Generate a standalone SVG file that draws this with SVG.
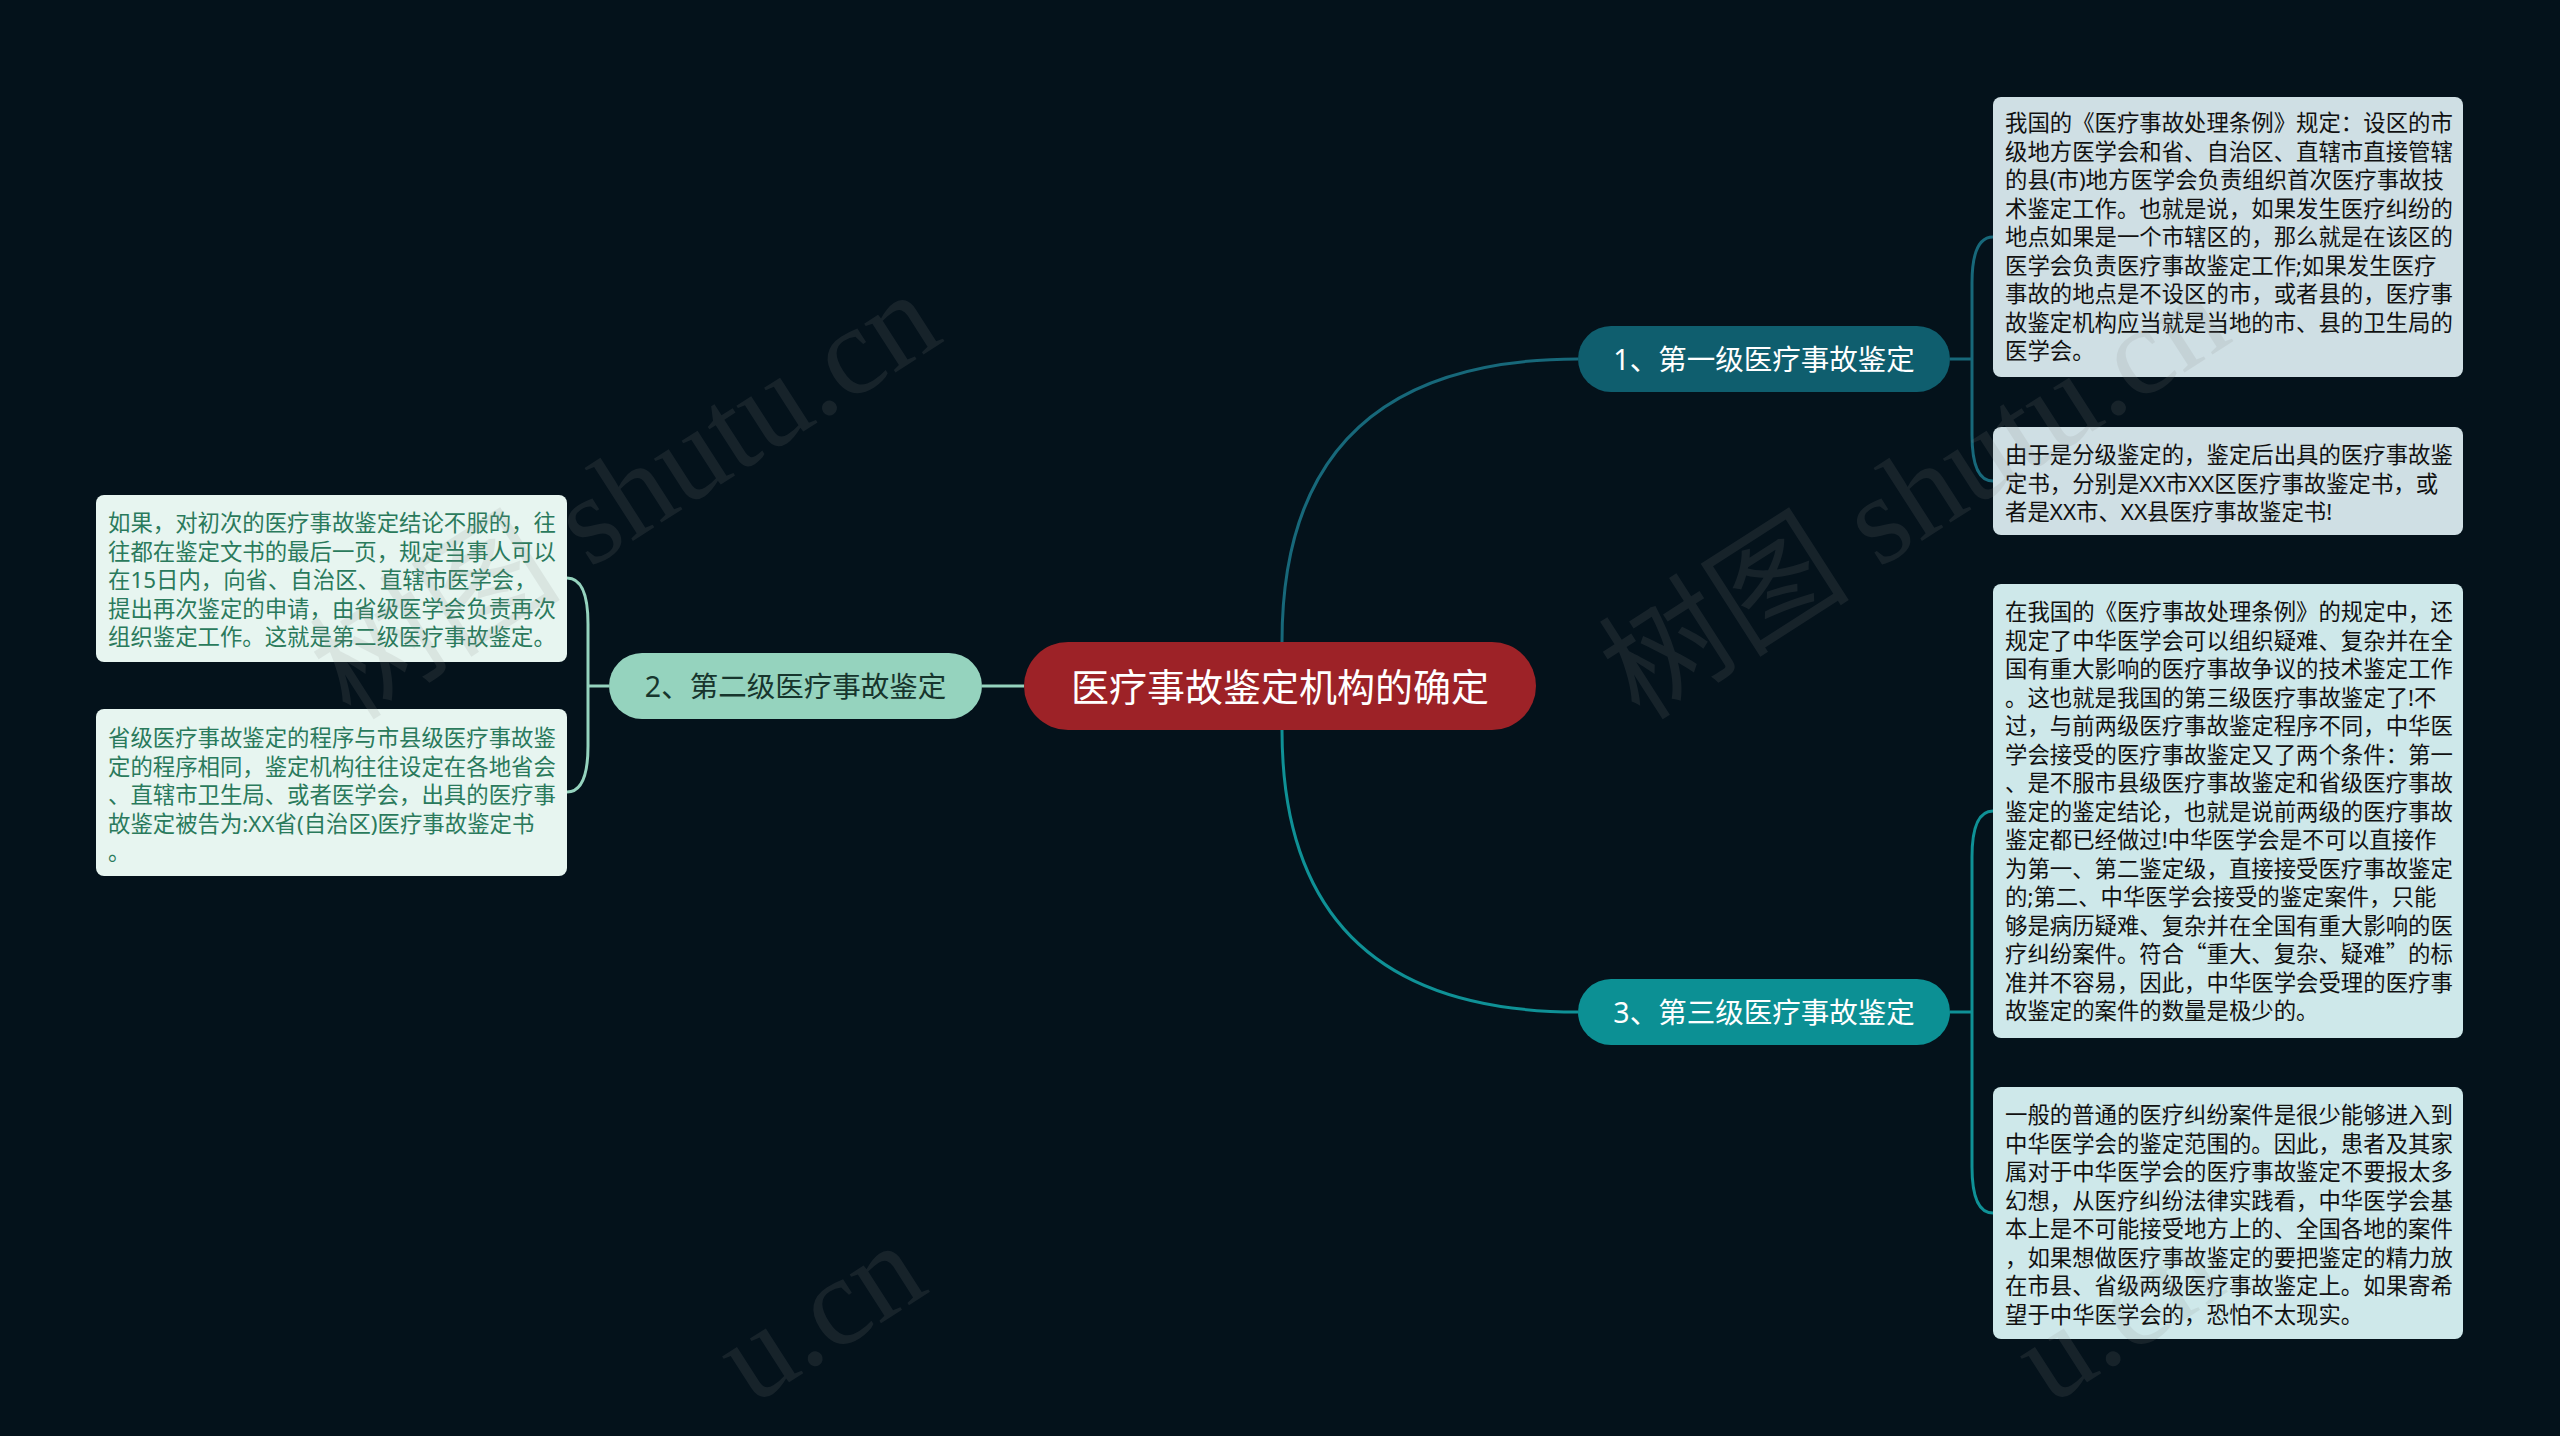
<svg xmlns="http://www.w3.org/2000/svg" width="2560" height="1436" viewBox="0 0 2560 1436">
<style>
.bg{fill:#04121b}
.node-t{font-family:"Noto Sans","Noto Sans CJK SC",sans-serif;text-anchor:middle;dominant-baseline:central}
.box-t{font-family:"Noto Sans","Noto Sans CJK SC",sans-serif;font-size:22.4px}
.q{font-family:"Noto Sans CJK SC","Noto Sans",sans-serif}
.rbox1{fill:#cfdfe4}
.rbox3{fill:#cee8ea}
.lbox{fill:#e7f5f0}
.rt{fill:#111111}
.lt{fill:#2a7a5c}
.c1{fill:none;stroke:#17687a;stroke-width:3}
.c2{fill:none;stroke:#95d3be;stroke-width:3}
.c3{fill:none;stroke:#0f9196;stroke-width:3}
.wm{font-family:"Liberation Serif","Noto Sans CJK SC",serif;font-size:126px;fill:#888888;opacity:0.14}
</style>
<rect class="bg" x="0" y="0" width="2560" height="1436"/>

<g id="connectors">
<path class="c1" d="M1282,642 Q1282,359 1578,359"/>
<path class="c3" d="M1282,730 Q1282,1012 1578,1012"/>
<path class="c2" d="M982,686 L1024,686"/>
<path class="c1" d="M1950,359 H1972"/>
<path class="c1" d="M1993,237 C1978,237 1972,255 1972,283 L1972,435 C1972,463 1978,481 1993,481"/>
<path class="c3" d="M1950,1012 H1972"/>
<path class="c3" d="M1993,811 C1978,811 1972,829 1972,857 L1972,1167 C1972,1195 1978,1213 1993,1213"/>
<path class="c2" d="M609,686 H588"/>
<path class="c2" d="M567,578 C582,578 588,596 588,624 L588,746 C588,774 582,792 567,792"/>
</g>

<g id="root">
<rect x="1024" y="642" width="512" height="88" rx="44" fill="#9d2227"/>
<text class="node-t" x="1280" y="686" font-size="38" fill="#ffffff">医疗事故鉴定机构的确定</text>
</g>

<g id="n1">
<rect x="1578" y="326" width="372" height="66" rx="33" fill="#0f5e6e"/>
<text class="node-t" x="1764" y="359" font-size="28.5" fill="#ffffff">1、第一级医疗事故鉴定</text>
</g>

<g id="n2">
<rect x="609" y="653" width="373" height="66" rx="33" fill="#95d3be"/>
<text class="node-t" x="795.5" y="686" font-size="28.5" fill="#17352d">2、第二级医疗事故鉴定</text>
</g>

<g id="n3">
<rect x="1578" y="979" width="372" height="66" rx="33" fill="#0c9094"/>
<text class="node-t" x="1764" y="1012" font-size="28.5" fill="#ffffff">3、第三级医疗事故鉴定</text>
</g>

<g id="n1a">
<rect class="rbox1" x="1993" y="97" width="470" height="280" rx="8"/>
<text class="box-t rt" x="2005" y="131">
<tspan x="2005">我国的《医疗事故处理条例》规定：设区的市</tspan>
<tspan x="2005" dy="28.5">级地方医学会和省、自治区、直辖市直接管辖</tspan>
<tspan x="2005" dy="28.5">的县(市)地方医学会负责组织首次医疗事故技</tspan>
<tspan x="2005" dy="28.5">术鉴定工作。也就是说，如果发生医疗纠纷的</tspan>
<tspan x="2005" dy="28.5">地点如果是一个市辖区的，那么就是在该区的</tspan>
<tspan x="2005" dy="28.5">医学会负责医疗事故鉴定工作;如果发生医疗</tspan>
<tspan x="2005" dy="28.5">事故的地点是不设区的市，或者县的，医疗事</tspan>
<tspan x="2005" dy="28.5">故鉴定机构应当就是当地的市、县的卫生局的</tspan>
<tspan x="2005" dy="28.5">医学会。</tspan>
</text>
</g>

<g id="n1b">
<rect class="rbox1" x="1993" y="427" width="470" height="108" rx="8"/>
<text class="box-t rt" x="2005" y="463">
<tspan x="2005">由于是分级鉴定的，鉴定后出具的医疗事故鉴</tspan>
<tspan x="2005" dy="28.5">定书，分别是XX市XX区医疗事故鉴定书，或</tspan>
<tspan x="2005" dy="28.5">者是XX市、XX县医疗事故鉴定书!</tspan>
</text>
</g>

<g id="n3a">
<rect class="rbox3" x="1993" y="584" width="470" height="454" rx="8"/>
<text class="box-t rt" x="2005" y="620">
<tspan x="2005">在我国的《医疗事故处理条例》的规定中，还</tspan>
<tspan x="2005" dy="28.5">规定了中华医学会可以组织疑难、复杂并在全</tspan>
<tspan x="2005" dy="28.5">国有重大影响的医疗事故争议的技术鉴定工作</tspan>
<tspan x="2005" dy="28.5">。这也就是我国的第三级医疗事故鉴定了!不</tspan>
<tspan x="2005" dy="28.5">过，与前两级医疗事故鉴定程序不同，中华医</tspan>
<tspan x="2005" dy="28.5">学会接受的医疗事故鉴定又了两个条件：第一</tspan>
<tspan x="2005" dy="28.5">、是不服市县级医疗事故鉴定和省级医疗事故</tspan>
<tspan x="2005" dy="28.5">鉴定的鉴定结论，也就是说前两级的医疗事故</tspan>
<tspan x="2005" dy="28.5">鉴定都已经做过!中华医学会是不可以直接作</tspan>
<tspan x="2005" dy="28.5">为第一、第二鉴定级，直接接受医疗事故鉴定</tspan>
<tspan x="2005" dy="28.5">的;第二、中华医学会接受的鉴定案件，只能</tspan>
<tspan x="2005" dy="28.5">够是病历疑难、复杂并在全国有重大影响的医</tspan>
<tspan x="2005" dy="28.5">疗纠纷案件。符合<tspan class="q">“</tspan>重大、复杂、疑难<tspan class="q">”</tspan>的标</tspan>
<tspan x="2005" dy="28.5">准并不容易，因此，中华医学会受理的医疗事</tspan>
<tspan x="2005" dy="28.5">故鉴定的案件的数量是极少的。</tspan>
</text>
</g>

<g id="n3b">
<rect class="rbox3" x="1993" y="1087" width="470" height="252" rx="8"/>
<text class="box-t rt" x="2005" y="1123">
<tspan x="2005">一般的普通的医疗纠纷案件是很少能够进入到</tspan>
<tspan x="2005" dy="28.5">中华医学会的鉴定范围的。因此，患者及其家</tspan>
<tspan x="2005" dy="28.5">属对于中华医学会的医疗事故鉴定不要报太多</tspan>
<tspan x="2005" dy="28.5">幻想，从医疗纠纷法律实践看，中华医学会基</tspan>
<tspan x="2005" dy="28.5">本上是不可能接受地方上的、全国各地的案件</tspan>
<tspan x="2005" dy="28.5">，如果想做医疗事故鉴定的要把鉴定的精力放</tspan>
<tspan x="2005" dy="28.5">在市县、省级两级医疗事故鉴定上。如果寄希</tspan>
<tspan x="2005" dy="28.5">望于中华医学会的，恐怕不太现实。</tspan>
</text>
</g>

<g id="n2a">
<rect class="lbox" x="96" y="495" width="471" height="167" rx="8"/>
<text class="box-t lt" x="108" y="531">
<tspan x="108">如果，对初次的医疗事故鉴定结论不服的，往</tspan>
<tspan x="108" dy="28.5">往都在鉴定文书的最后一页，规定当事人可以</tspan>
<tspan x="108" dy="28.5">在15日内，向省、自治区、直辖市医学会，</tspan>
<tspan x="108" dy="28.5">提出再次鉴定的申请，由省级医学会负责再次</tspan>
<tspan x="108" dy="28.5">组织鉴定工作。这就是第二级医疗事故鉴定。</tspan>
</text>
</g>

<g id="n2b">
<rect class="lbox" x="96" y="709" width="471" height="167" rx="8"/>
<text class="box-t lt" x="108" y="746">
<tspan x="108">省级医疗事故鉴定的程序与市县级医疗事故鉴</tspan>
<tspan x="108" dy="28.5">定的程序相同，鉴定机构往往设定在各地省会</tspan>
<tspan x="108" dy="28.5">、直辖市卫生局、或者医学会，出具的医疗事</tspan>
<tspan x="108" dy="28.5">故鉴定被告为:XX省(自治区)医疗事故鉴定书</tspan>
<tspan x="108" dy="28.5">。</tspan>
</text>
</g>

<g id="watermarks">
<text class="wm" x="351" y="722" transform="rotate(-32.7 351 722)">树图 shutu.cn</text>
<text class="wm" x="1640" y="722" transform="rotate(-32.7 1640 722)">树图 shutu.cn</text>
<text class="wm" x="752" y="1406" transform="rotate(-32.7 752 1406)">u.cn</text>
<text class="wm" x="2050" y="1406" transform="rotate(-32.7 2050 1406)">u.cn</text>
</g>
</svg>
